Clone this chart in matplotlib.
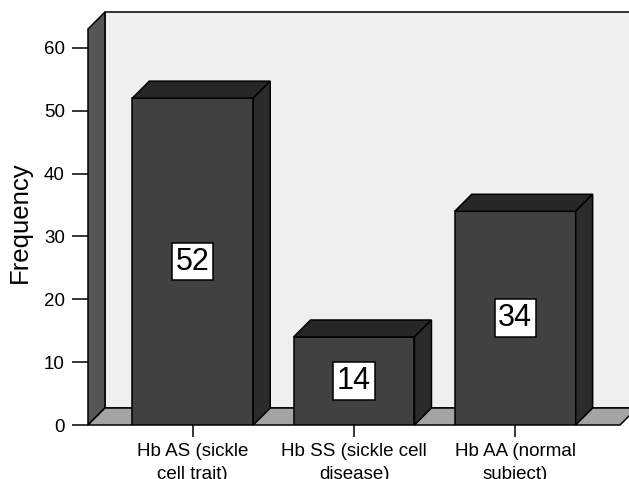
import matplotlib
matplotlib.use("Agg")
import matplotlib.pyplot as plt
from matplotlib.patches import Polygon

categories = ["Hb AS (sickle\ncell trait)", "Hb SS (sickle cell\ndisease)", "Hb AA (normal\nsubject)"]
frequencies = [52, 14, 34]
yticks = [0, 10, 20, 30, 40, 50, 60]

plt.rcParams['font.family'] = ['Liberation Sans', 'DejaVu Sans']

W, H = 629, 479
fig = plt.figure(figsize=(W / 100, H / 100), dpi=100)
ax = fig.add_axes([88 / W, (H - 425) / H, (620 - 88) / W, (425 - 29) / H])
x0, x1 = -0.65, 2.65
ymax = 63
ax.set_xlim(x0, x1)
ax.set_ylim(0, ymax)
for s in ax.spines.values():
    s.set_visible(False)
ax.set_facecolor('none')

# depth of the 3D effect, converted from pixels to data units
depth_px = 17
inv = ax.transData.inverted()
a = inv.transform((0, 0))
b = inv.transform((depth_px, depth_px))
ddx, ddy = b - a

edge = dict(edgecolor='black', linewidth=1.1, clip_on=False, joinstyle='miter')

# back wall
ax.add_patch(Polygon([(x0 + ddx, ddy), (x1 + ddx, ddy), (x1 + ddx, ymax + ddy), (x0 + ddx, ymax + ddy)],
                     facecolor='#efefef', zorder=0, **edge))
# left wall
ax.add_patch(Polygon([(x0, 0), (x0, ymax), (x0 + ddx, ymax + ddy), (x0 + ddx, ddy)],
                     facecolor='#565656', zorder=1, **edge))
# floor
ax.add_patch(Polygon([(x0, 0), (x1, 0), (x1 + ddx, ddy), (x0 + ddx, ddy)],
                     facecolor='#a4a4a4', zorder=1, **edge))

width = 0.75
xs = list(range(len(categories)))
ax.bar(xs, frequencies, width=width, color='#414141', edgecolor='black', linewidth=1.1, zorder=3)
for x, v in zip(xs, frequencies):
    xl, xr = x - width / 2, x + width / 2
    ax.add_patch(Polygon([(xl, v), (xr, v), (xr + ddx, v + ddy), (xl + ddx, v + ddy)],
                         facecolor='#262626', zorder=3, **edge))
    ax.add_patch(Polygon([(xr, 0), (xr, v), (xr + ddx, v + ddy), (xr + ddx, ddy)],
                         facecolor='#2b2b2b', zorder=3, **edge))
    ax.text(x, v / 2, str(v), ha='center', va='center', fontsize=22, zorder=5,
            bbox=dict(boxstyle='square,pad=0.12', facecolor='white', edgecolor='black', linewidth=1.1))

ax.set_yticks(yticks)
ax.set_yticklabels([str(t) for t in yticks])
ax.set_xticks(xs)
ax.set_xticklabels(categories, linespacing=1.5)
ax.tick_params(axis='y', length=11.2, width=1.1, pad=5.5, labelsize=13.5, colors='black')
ax.tick_params(axis='x', length=8.6, width=1.1, pad=4, labelsize=13.5, colors='black')

fig.text(20 / W, (H - 222) / H, 'Frequency', rotation=90, ha='center', va='center', fontsize=18.5)

fig.savefig('out.png', dpi=100, facecolor='white')
